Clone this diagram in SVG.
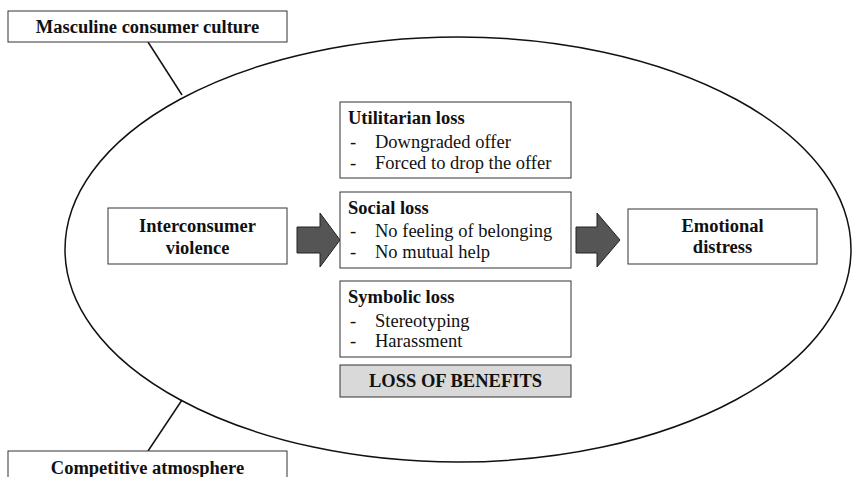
<svg xmlns="http://www.w3.org/2000/svg" width="852" height="477" viewBox="0 0 852 477">
<style>
.box{fill:#fff;stroke:#333;stroke-width:1}
.b{font-family:"Liberation Serif","Times New Roman",serif;font-weight:bold;font-size:18.5px;fill:#111}
.r{font-family:"Liberation Serif","Times New Roman",serif;font-size:18.5px;fill:#111}
.c{text-anchor:middle}
.ln{stroke:#111;stroke-width:1.5;fill:none}
.arr{fill:#555;stroke:#222;stroke-width:1}
</style>
<rect width="852" height="477" fill="#fff"/>
<ellipse cx="458" cy="249.5" rx="393" ry="212.5" class="ln"/>
<g id="connectors">
<line x1="148" y1="42" x2="182" y2="95" class="ln"/>
<line x1="148" y1="451" x2="182" y2="400" class="ln"/>
<polygon class="arr" points="297,227 320,227 320,213 340,240 320,267 320,253 297,253"/>
<polygon class="arr" points="576,227 597,227 597,213 620,240 597,267 597,253 576,253"/>
</g>
<g id="masculine">
<rect class="box" x="8" y="11" width="279" height="31"/>
<text class="b c" x="147.5" y="33">Masculine consumer culture</text>
</g>
<g id="competitive">
<rect class="box" x="8" y="451" width="279" height="40"/>
<text class="b c" x="147.5" y="474">Competitive atmosphere</text>
</g>
<g id="interconsumer">
<rect class="box" x="108" y="208" width="179" height="56"/>
<text class="b c" x="197.5" y="232">Interconsumer</text>
<text class="b c" x="197.5" y="254">violence</text>
</g>
<g id="utilitarian">
<rect class="box" x="340" y="102" width="231" height="76"/>
<text class="b" x="348" y="124">Utilitarian loss</text>
<text class="r" x="350" y="148">-</text><text class="r" x="375" y="148">Downgraded offer</text>
<text class="r" x="350" y="169">-</text><text class="r" x="375" y="169">Forced to drop the offer</text>
</g>
<g id="social">
<rect class="box" x="340" y="192" width="231" height="76"/>
<text class="b" x="348" y="214">Social loss</text>
<text class="r" x="350" y="237">-</text><text class="r" x="375" y="237">No feeling of belonging</text>
<text class="r" x="350" y="258">-</text><text class="r" x="375" y="258">No mutual help</text>
</g>
<g id="symbolic">
<rect class="box" x="340" y="281" width="231" height="76"/>
<text class="b" x="348" y="303">Symbolic loss</text>
<text class="r" x="350" y="327">-</text><text class="r" x="375" y="327">Stereotyping</text>
<text class="r" x="350" y="347">-</text><text class="r" x="375" y="347">Harassment</text>
</g>
<g id="loss-of-benefits">
<rect x="340" y="365" width="231" height="32" fill="#d9d9d9" stroke="#333" stroke-width="1"/>
<text class="b c" x="455.5" y="387">LOSS OF BENEFITS</text>
</g>
<g id="emotional">
<rect class="box" x="628" y="209" width="189" height="55"/>
<text class="b c" x="722.5" y="232">Emotional</text>
<text class="b c" x="722.5" y="253">distress</text>
</g>
</svg>
